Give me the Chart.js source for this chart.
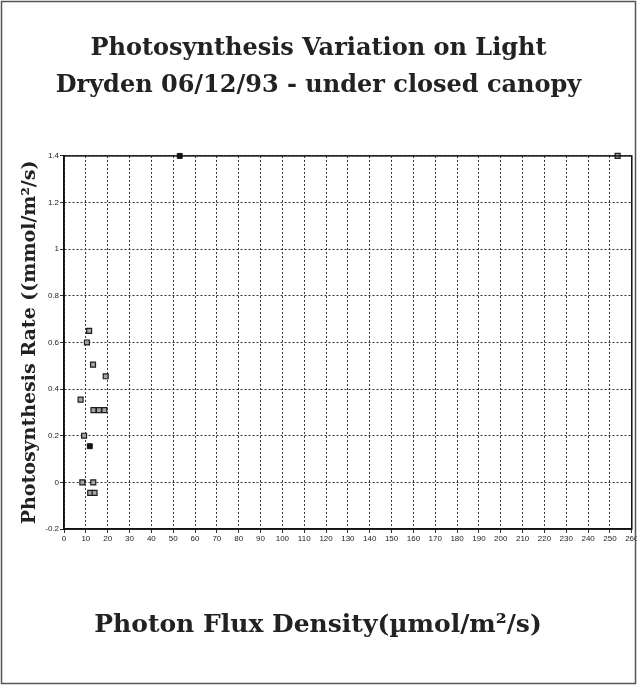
<!DOCTYPE html>
<html>
<head>
<meta charset="utf-8">
<script src="https://cdn.jsdelivr.net/npm/chart.js@4"></script>
<style>
  html, body { margin: 0; padding: 0; background: #fff; }
  canvas { display: block; }
</style>
</head>
<body>
<canvas id="chart" width="637" height="685"></canvas>
<script>
// Data
const titleLines = ['Photosynthesis Variation on Light', 'Dryden 06/12/93 - under closed canopy'];
const xTitle = 'Photon Flux Density(\u00b5mol/m\u00b2/s)';
const yTitle = 'Photosynthesis Rate ((mmol/m\u00b2/s)';

// grey squares
const greyX = [11.5, 10.5, 13.3, 19.1, 7.6, 13.5, 16, 18.5, 9.2, 8.4, 13.4, 12, 14, 253.5];
const greyY = [0.65, 0.6, 0.505, 0.455, 0.355, 0.31, 0.31, 0.31, 0.2, 0, 0, -0.045, -0.045, 1.4];
// black squares
const darkX = [11.8, 53];
const darkY = [0.155, 1.4];

const yTickLabels = ['-0.2', '0', '0.2', '0.4', '0.6', '0.8', '1', '1.2', '1.4'];

const ink = '#222';
const serif = "'DejaVu Serif', 'Liberation Serif', serif";
const tickFont = { family: "'Liberation Sans', Arial, sans-serif", size: 8 };

function toPoints(xs, ys) {
    return xs.map((x, i) => ({ x: x, y: ys[i] }));
}

// Frame round the plot and the slide, plus the x title centred on the page
const framePlugin = {
    id: 'frame',
    afterDraw(chart) {
        const { ctx, chartArea } = chart;
        ctx.save();
        ctx.strokeStyle = '#111';
        ctx.lineWidth = 1.5;
        ctx.strokeRect(chartArea.left, chartArea.top, chartArea.right - chartArea.left, chartArea.bottom - chartArea.top);
        ctx.strokeStyle = '#555';
        ctx.strokeRect(1.5, 1.5, chart.width - 3, chart.height - 3);

        ctx.fillStyle = ink;
        ctx.font = 'bold 25px ' + serif;
        ctx.textAlign = 'center';
        ctx.textBaseline = 'middle';
        ctx.fillText(xTitle, 318, 625);
        ctx.restore();
    }
};

const ctx = document.getElementById('chart').getContext('2d');
new Chart(ctx, {
    type: 'scatter',
    data: {
        datasets: [
            {
                data: toPoints(greyX, greyY),
                pointStyle: 'rect',
                pointRadius: 3.5,
                backgroundColor: '#a3a3a3',
                borderColor: '#1e1e1e',
                borderWidth: 1.2
            },
            {
                data: toPoints(darkX, darkY),
                pointStyle: 'rect',
                pointRadius: 3.5,
                backgroundColor: '#151515',
                borderColor: '#111',
                borderWidth: 1
            }
        ]
    },
    options: {
        responsive: false,
        animation: false,
        clip: false,
        layout: { padding: { left: 4, right: 4, top: 0, bottom: 0 } },
        plugins: {
            legend: { display: false },
            tooltip: { enabled: false },
            title: {
                display: true,
                text: titleLines,
                color: ink,
                font: { family: serif, size: 24, weight: 'bold', lineHeight: 1.54 },
                padding: { top: 30, bottom: 52 }
            }
        },
        scales: {
            x: {
                type: 'linear',
                min: 0,
                max: 260,
                ticks: {
                    stepSize: 10,
                    autoSkip: false,
                    maxRotation: 0,
                    padding: 1,
                    color: ink,
                    font: tickFont
                },
                grid: { color: '#333', lineWidth: 1, tickLength: 4 },
                border: { color: '#111', width: 1.5, dash: [2, 2] },
                afterFit(scale) {
                    scale.height = 156;
                    scale.paddingLeft = 0;
                    scale.paddingRight = 0;
                }
            },
            y: {
                min: -0.2,
                max: 1.4,
                ticks: {
                    stepSize: 0.2,
                    padding: 1,
                    color: ink,
                    font: tickFont,
                    callback: (value, index) => yTickLabels[index]
                },
                grid: { color: '#333', lineWidth: 1, tickLength: 4 },
                border: { color: '#111', width: 1.5, dash: [2, 2] },
                title: {
                    display: true,
                    text: yTitle,
                    color: ink,
                    font: { family: serif, size: 19, weight: 'bold', lineHeight: 1.2 },
                    padding: { top: 15, bottom: 4 }
                },
                afterFit(scale) {
                    scale.width = 60;
                }
            }
        }
    },
    plugins: [framePlugin]
});
</script>
</body>
</html>
